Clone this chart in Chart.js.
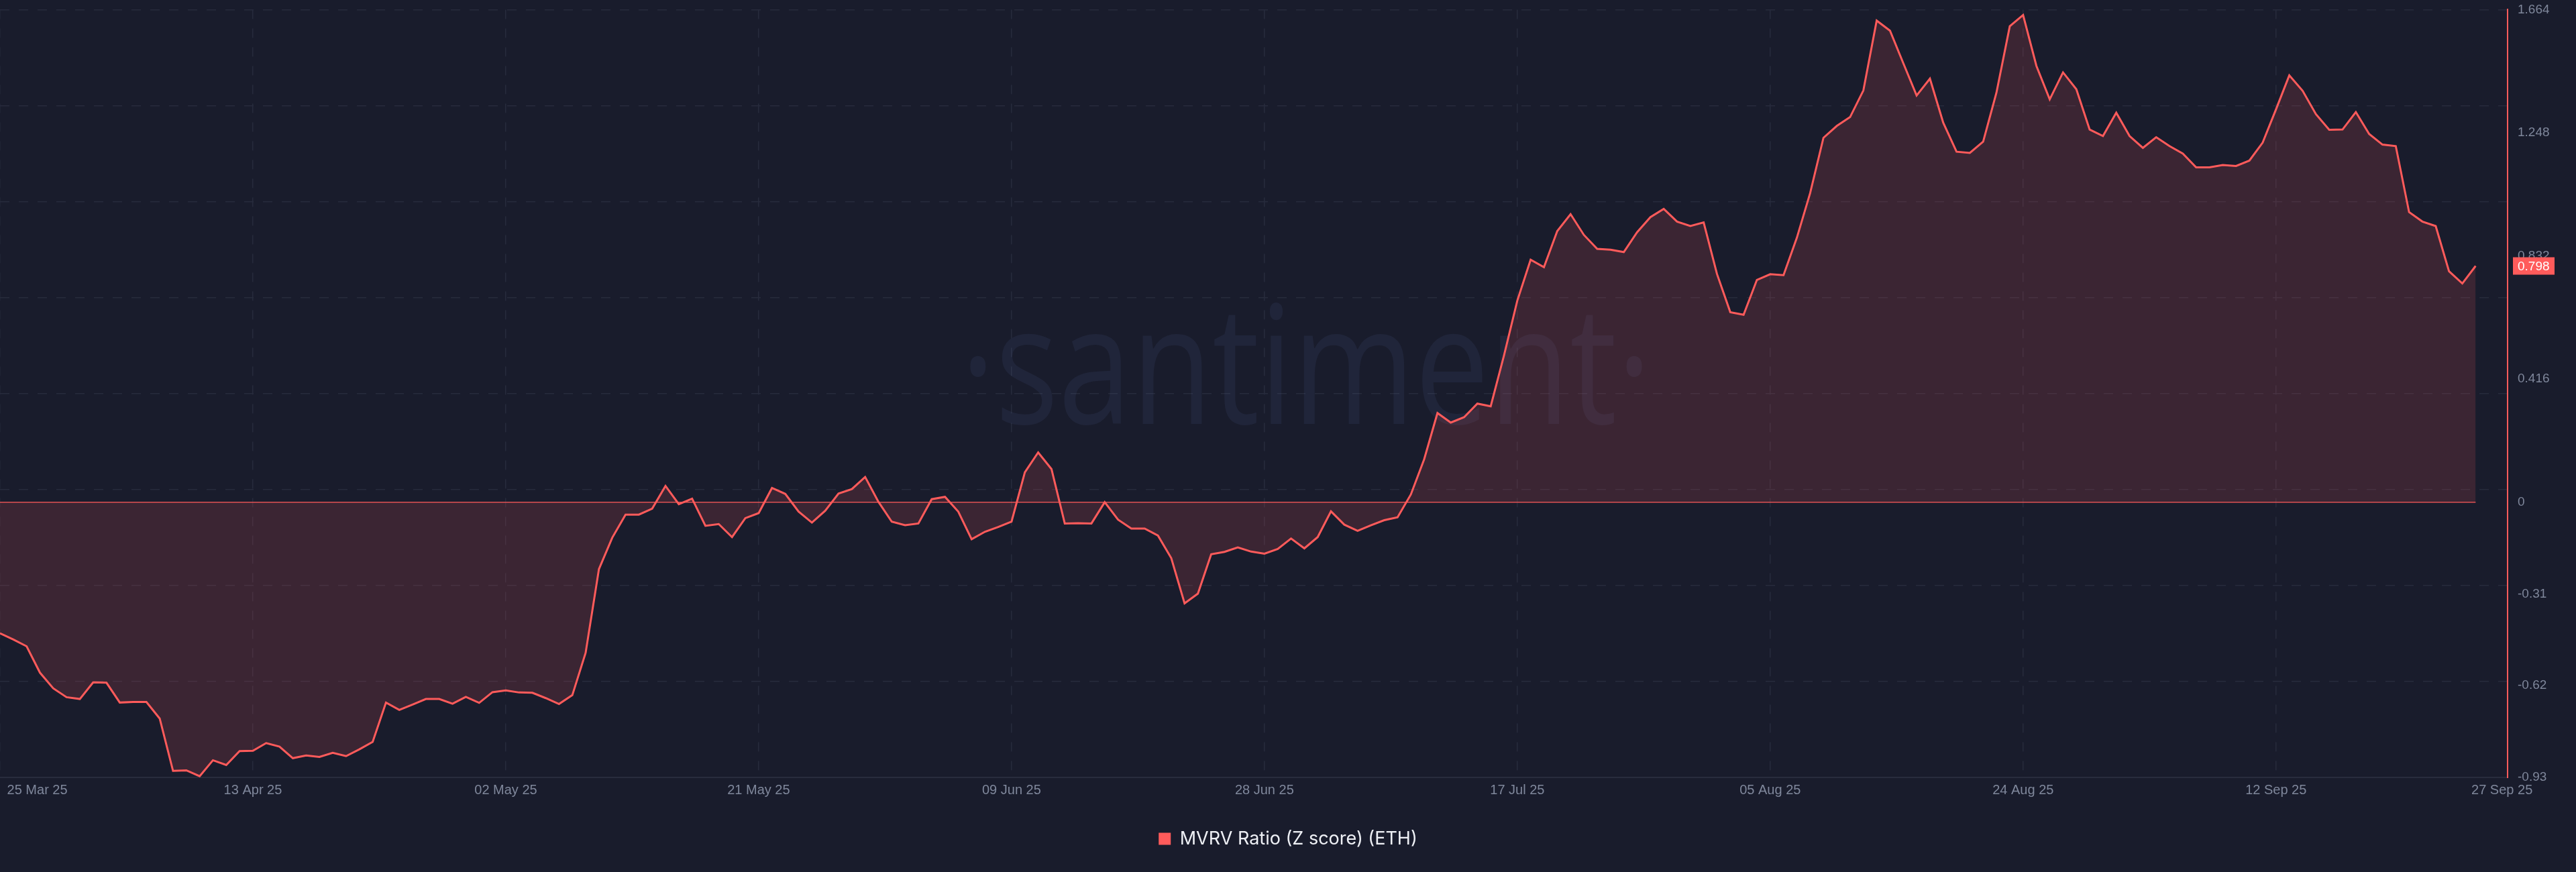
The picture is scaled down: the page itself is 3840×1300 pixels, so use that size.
<!DOCTYPE html>
<html>
<head>
<meta charset="utf-8">
<title>MVRV Ratio (Z score) (ETH)</title>
<script src="https://cdn.jsdelivr.net/npm/chart.js@4.4.1/dist/chart.umd.min.js"></script>
<style>
  html, body { margin: 0; padding: 0; background: #191c2c; }
  canvas { display: block; }
</style>
</head>
<body>
<canvas id="chart" width="3840" height="1300"></canvas>
<script>
// daily MVRV Z score for ETH, 25 Mar 25 .. 27 Sep 25 (one value per day)
const mvrvZ = [
  -0.443, -0.464, -0.487, -0.576, -0.629, -0.659, -0.665, -0.609, -0.610, -0.677,
  -0.675, -0.675, -0.731, -0.908, -0.906, -0.926, -0.872, -0.888, -0.841, -0.840,
  -0.814, -0.826, -0.865, -0.856, -0.861, -0.847, -0.858, -0.835, -0.810, -0.677,
  -0.702, -0.684, -0.665, -0.665, -0.681, -0.658, -0.678, -0.642, -0.636, -0.643,
  -0.644, -0.662, -0.682, -0.652, -0.509, -0.226, -0.120, -0.042, -0.042, -0.022,
  0.055, -0.007, 0.012, -0.080, -0.074, -0.118, -0.054, -0.037, 0.048, 0.028,
  -0.032, -0.069, -0.029, 0.029, 0.044, 0.085, 0.001, -0.066, -0.078, -0.072,
  0.010, 0.018, -0.032, -0.125, -0.100, -0.084, -0.066, 0.101, 0.168, 0.112,
  -0.072, -0.071, -0.072, 0.000, -0.059, -0.089, -0.089, -0.113, -0.189, -0.342,
  -0.309, -0.176, -0.168, -0.153, -0.167, -0.174, -0.158, -0.123, -0.156, -0.118,
  -0.031, -0.076, -0.097, -0.078, -0.061, -0.051, 0.026, 0.145, 0.301, 0.269,
  0.287, 0.333, 0.324, 0.496, 0.681, 0.819, 0.794, 0.916, 0.973, 0.903,
  0.856, 0.853, 0.845, 0.912, 0.963, 0.991, 0.948, 0.933, 0.945, 0.771,
  0.642, 0.633, 0.751, 0.770, 0.767, 0.893, 1.044, 1.231, 1.271, 1.301,
  1.391, 1.627, 1.593, 1.483, 1.374, 1.431, 1.282, 1.184, 1.180, 1.218,
  1.384, 1.608, 1.646, 1.474, 1.361, 1.452, 1.395, 1.259, 1.237, 1.316,
  1.237, 1.197, 1.233, 1.203, 1.178, 1.131, 1.131, 1.139, 1.136, 1.154,
  1.215, 1.327, 1.442, 1.390, 1.311, 1.258, 1.259, 1.318, 1.244, 1.208,
  1.203, 0.980, 0.948, 0.933, 0.780, 0.739, 0.798
];

// x axis runs a little past the last day, like the original
const X_MAX = 188.4;
const xTickPos = [0, 19, 38, 57, 76, 95, 114, 133, 152, 171, X_MAX];
const xTickLabels = ['25 Mar 25', '13 Apr 25', '02 May 25', '21 May 25', '09 Jun 25',
  '28 Jun 25', '17 Jul 25', '05 Aug 25', '24 Aug 25', '12 Sep 25', '27 Sep 25'];
const yTickValues = [-0.93, -0.62, -0.31, 0, 0.416, 0.832, 1.248, 1.664];

const RED = '#ff5b5b';
const GRID = '#272b3c';
const TICK_COLOR = '#7f879b';

const watermark = {
  id: 'watermark',
  beforeDatasetsDraw(chart) {
    const ctx = chart.ctx;
    const text = '\u00b7santiment\u00b7';
    ctx.save();
    ctx.font = '245px "Open Sans"';
    const w = ctx.measureText(text).width;
    ctx.translate(1947, 632);
    ctx.scale(1030 / w, 1);
    ctx.textAlign = 'center';
    ctx.textBaseline = 'alphabetic';
    ctx.fillStyle = 'rgba(110,130,200,0.09)';
    ctx.fillText(text, 0, 0);
    ctx.restore();
  }
};

const zeroLine = {
  id: 'zeroLine',
  afterDatasetsDraw(chart) {
    const { ctx, chartArea, scales } = chart;
    const y0 = scales.y.getPixelForValue(0);
    const xEnd = scales.x.getPixelForValue(mvrvZ.length - 1);
    ctx.save();
    ctx.strokeStyle = 'rgba(255,91,91,0.85)';
    ctx.lineWidth = 1.5;
    ctx.beginPath();
    ctx.moveTo(chartArea.left, y0);
    ctx.lineTo(xEnd, y0);
    ctx.stroke();
    ctx.restore();
  }
};

const lastValueTag = {
  id: 'lastValueTag',
  afterDraw(chart) {
    const { ctx, chartArea, scales } = chart;
    const last = mvrvZ[mvrvZ.length - 1];
    const y = scales.y.getPixelForValue(last);
    const x = chartArea.right + 8;
    ctx.save();
    ctx.fillStyle = RED;
    ctx.fillRect(x, y - 13, 62, 26);
    ctx.fillStyle = '#ffffff';
    ctx.font = '19px "Liberation Sans"';
    ctx.textBaseline = 'middle';
    ctx.textAlign = 'left';
    ctx.fillText(last.toFixed(3), x + 7, y + 1);
    ctx.restore();
  }
};

new Chart(document.getElementById('chart'), {
  type: 'line',
  data: {
    datasets: [{
      label: 'MVRV Ratio (Z score) (ETH)',
      data: mvrvZ.map((v, i) => ({ x: i, y: v })),
      borderColor: RED,
      backgroundColor: 'rgba(255,91,91,0.15)',
      borderWidth: 3,
      pointRadius: 0,
      tension: 0,
      fill: 'origin'
    }]
  },
  options: {
    responsive: false,
    devicePixelRatio: 1,
    animation: false,
    layout: { padding: { top: 3, right: 0, bottom: 26, left: 0 } },
    plugins: {
      tooltip: { enabled: false },
      legend: {
        position: 'bottom',
        labels: {
          boxWidth: 18,
          boxHeight: 18,
          padding: 10,
          color: '#eef0f5',
          font: { family: 'Inter', size: 27 },
          generateLabels(chart) {
            return chart.data.datasets.map((ds, i) => ({
              text: ds.label,
              fillStyle: ds.borderColor,
              strokeStyle: ds.borderColor,
              lineWidth: 0,
              hidden: false,
              datasetIndex: i,
              fontColor: '#eef0f5'
            }));
          }
        }
      }
    },
    scales: {
      x: {
        type: 'linear',
        min: 0,
        max: X_MAX,
        afterBuildTicks(scale) {
          scale.ticks = xTickPos.map(v => ({ value: v }));
        },
        afterFit(scale) {
          scale.height = 68;
          // plot runs edge to edge; labels may hang over the ends
          scale.paddingLeft = 0;
          scale.paddingRight = 0;
        },
        ticks: {
          autoSkip: false,
          maxRotation: 0,
          padding: 0,
          color: TICK_COLOR,
          // tall line box pushes the labels down without adding side padding
          font: { family: 'Liberation Sans', size: 20, lineHeight: 1.9 },
          // first label sits just inside the left edge, as in the original
          callback: (v, i) => (i === 0 ? ' '.repeat(20) : '') + xTickLabels[i] + (i === xTickLabels.length - 1 ? '   ' : '')
        },
        grid: { color: GRID, lineWidth: 1.5, drawTicks: false },
        border: { display: true, color: '#282c3d', width: 2, dash: [14, 14] }
      },
      y: {
        position: 'right',
        min: -0.93,
        max: 1.664,
        afterBuildTicks(scale) {
          scale.ticks = yTickValues.map(v => ({ value: v }));
        },
        // fixed axis width keeps the plot edge where the original has it
        afterFit(scale) {
          scale.width = 102;
        },
        ticks: {
          autoSkip: false,
          padding: 3,
          color: TICK_COLOR,
          font: { family: 'Liberation Sans', size: 19 },
          callback: v => String(v)
        },
        // invisible tick length gives the label gap without extra top padding
        grid: { display: false, drawTicks: true, tickLength: 12 },
        border: { display: true, color: RED, width: 2 }
      },
      // evenly spaced horizontal grid, independent of the value labels
      yGrid: {
        position: 'left',
        min: 0,
        max: 8,
        ticks: { display: false, stepSize: 1 },
        grid: { color: GRID, lineWidth: 1.5, drawTicks: false },
        border: { display: false, dash: [14, 14] }
      }
    }
  },
  plugins: [watermark, zeroLine, lastValueTag]
});
</script>
</body>
</html>
